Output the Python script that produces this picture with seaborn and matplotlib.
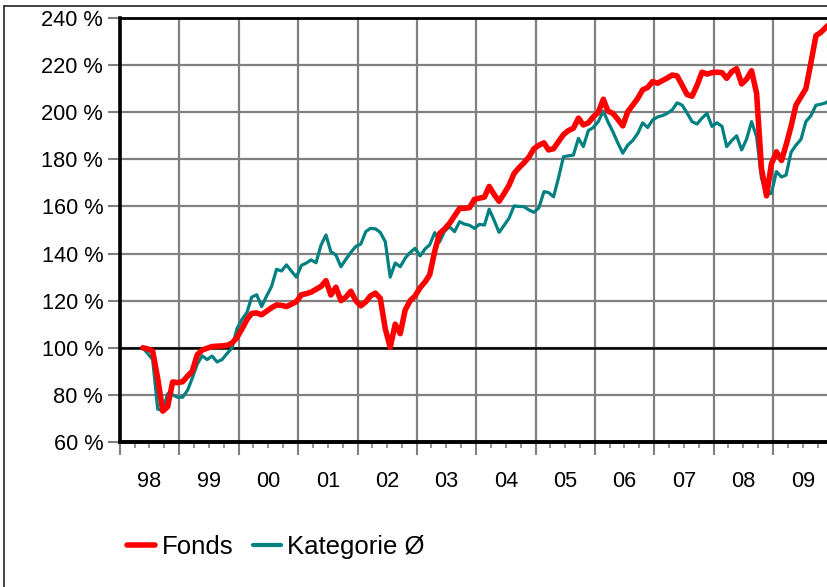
import pandas as pd
import seaborn as sns
import matplotlib.pyplot as plt
import matplotlib.dates as mdates
from matplotlib.lines import Line2D
from matplotlib.ticker import NullFormatter

# monthly values, starting May 1998 (in % of start value)
fonds = [
    100, 99.5, 98.6, 87, 73.1, 75, 85.5, 85.2, 85.6, 88,
    90, 97, 99, 99.8, 100.5, 100.7, 100.8, 101, 102, 104.3,
    108, 112, 114.6, 114.8, 114, 115.5, 117, 118.2, 118, 117.5,
    118.5, 119.6, 122.5, 123, 123.6, 124.8, 126, 128.5, 122.4, 125.7,
    120, 121.5, 124, 120, 117.8, 119.5, 122, 123.2, 121, 108,
    100.2, 110, 106, 116, 120, 122, 125.5, 128, 131, 141,
    148.5, 150.5, 152.8, 156, 159.2, 159.2, 159.5, 163, 163.5, 164,
    168.5, 165, 162.2, 165.5, 169, 174, 176.5, 178.5, 181, 184.5,
    186, 187, 184, 184.5, 187.5, 190.5, 192.2, 193.2, 197.5, 194.6,
    195.5, 198, 200, 205.5, 200.5, 199.5, 197, 194.2, 200.2, 203,
    205.9, 209.5, 210.5, 213, 212.3, 213.5, 214.5, 215.8, 215.4, 211.5,
    207.5, 206.8, 211.5, 217, 216.2, 216.8, 217, 216.8, 214.4, 217.2,
    218.5, 212, 214, 217.6, 208, 176, 164.5, 178, 183.2, 179.5,
    186, 194, 203, 206.6, 210, 221, 232.5, 233.9, 236, 238,
]
kategorie = [
    100, 97.5, 95, 74, 73.3, 80.5, 80, 79, 79, 82,
    87, 93, 96.6, 95, 96.5, 94, 95, 97.5, 100, 108,
    112, 115, 121.5, 122.5, 117.5, 122, 126, 133.3, 132.6, 135.2,
    132.5, 130, 135, 136, 137.3, 136.1, 143.5, 147.9, 140.8, 139.4,
    134.4, 137.5, 140.5, 143, 144, 149.3, 150.7, 150.5, 149, 145,
    130, 136, 134.4, 138, 140.5, 142.2, 139, 142, 143.7, 148.9,
    145, 149.5, 151.4, 149.3, 153.5, 152.5, 152, 150.7, 152.4, 152.1,
    158.8, 154, 149, 152, 155, 160.2, 160, 159.9, 158.5, 157.5,
    159.5, 166.3, 165.9, 164.1, 172, 181.1, 181.5, 181.8, 188.9, 185.4,
    192.2, 193.5, 196, 200.5, 196, 191.7, 187, 182.6, 186, 188,
    191, 195.5, 193.5, 196.7, 198, 198.6, 199.5, 201, 204, 203,
    199.7, 196, 195, 197.5, 199.5, 194, 195.5, 194, 185.4, 188,
    190, 184, 188.5, 196, 189.6, 172, 165, 165.6, 174.8, 172.5,
    173.3, 183, 186, 188.5, 196, 198.5, 203, 203.4, 204, 205.5,
]
year_labels = ["98", "99", "00", "01", "02", "03", "04", "05", "06", "07", "08", "09"]
y_ticks = [60, 80, 100, 120, 140, 160, 180, 200, 220, 240]

RED = "#ff0000"
TEAL = "#008080"
GRID = "#808080"

months = pd.date_range("1998-05-21", periods=len(fonds), freq=pd.DateOffset(months=1))
df = pd.DataFrame({"Datum": months, "Fonds": fonds, "Kategorie Ø": kategorie})

sns.set_theme(style="white")
plt.rcParams["font.family"] = ["Liberation Sans", "DejaVu Sans"]
plt.rcParams["text.color"] = "black"
plt.rcParams["xtick.labelcolor"] = "black"
plt.rcParams["ytick.labelcolor"] = "black"

W, H = 827, 587
fig = plt.figure(figsize=(W / 100, H / 100), dpi=100)
ax = fig.add_axes([120 / W, 1 - 442 / H, 707 / W, 424 / H])

sns.lineplot(data=df, x="Datum", y="Kategorie Ø", color=TEAL, lw=2.3, ax=ax, zorder=3)
sns.lineplot(data=df, x="Datum", y="Fonds", color=RED, lw=4.0, ax=ax, zorder=4)
ax.axhline(100, color="black", lw=1.8, zorder=2)

ax.set_xlim(pd.Timestamp("1998-01-01"), pd.Timestamp("2009-11-28"))
ax.set_ylim(60, 240)
ax.set_xlabel("")
ax.set_ylabel("")

ax.set_yticks(y_ticks)
ax.set_yticklabels([f"{v} %" for v in y_ticks])
ax.xaxis.set_major_locator(mdates.YearLocator())
ax.xaxis.set_minor_locator(mdates.MonthLocator(bymonth=[4, 7, 10]))
ax.xaxis.set_major_formatter(NullFormatter())

# year labels sit between the year gridlines
for i, lab in enumerate(year_labels):
    ax.text(mdates.date2num(pd.Timestamp(f"{1998 + i}-07-02")), -0.093, lab,
            transform=ax.get_xaxis_transform(), ha="center", va="center",
            fontsize=15.7, color="black")

ax.tick_params(axis="y", which="major", left=True, length=8.6, width=1.5, color=GRID,
               labelsize=15.7, labelcolor="black", pad=3.5)
ax.tick_params(axis="x", which="major", bottom=True, length=9, width=1.5, color=GRID)
ax.tick_params(axis="x", which="minor", bottom=True, length=4.5, width=1.2, color=GRID)

ax.grid(True, which="major", color=GRID, lw=1.6, zorder=1)
ax.set_axisbelow(True)

for side, lw in [("top", 2.0), ("left", 2.6), ("bottom", 2.8)]:
    ax.spines[side].set_color("black")
    ax.spines[side].set_linewidth(lw)
ax.spines["right"].set_visible(False)

handles = [Line2D([], [], color=RED, lw=4), Line2D([], [], color=TEAL, lw=3)]
leg = fig.legend(handles, ["Fonds", "Kategorie Ø"], loc="center left",
                 bbox_to_anchor=(127 / W, 1 - 547 / H), ncol=2, frameon=False,
                 fontsize=18.5, handlelength=1.1, handletextpad=0.25, columnspacing=0.75,
                 borderpad=0, borderaxespad=0)
for t in leg.get_texts():
    t.set_color("black")

# outer frame (only top and left edges fall inside the picture)
fig.add_artist(Line2D([3.5 / W, 3.5 / W], [0, 1 - 5.5 / H], transform=fig.transFigure,
                      color="#222222", lw=1.2))
fig.add_artist(Line2D([3.5 / W, 1], [1 - 5.5 / H, 1 - 5.5 / H], transform=fig.transFigure,
                      color="#222222", lw=1.2))

fig.savefig("out.png", dpi=100)
